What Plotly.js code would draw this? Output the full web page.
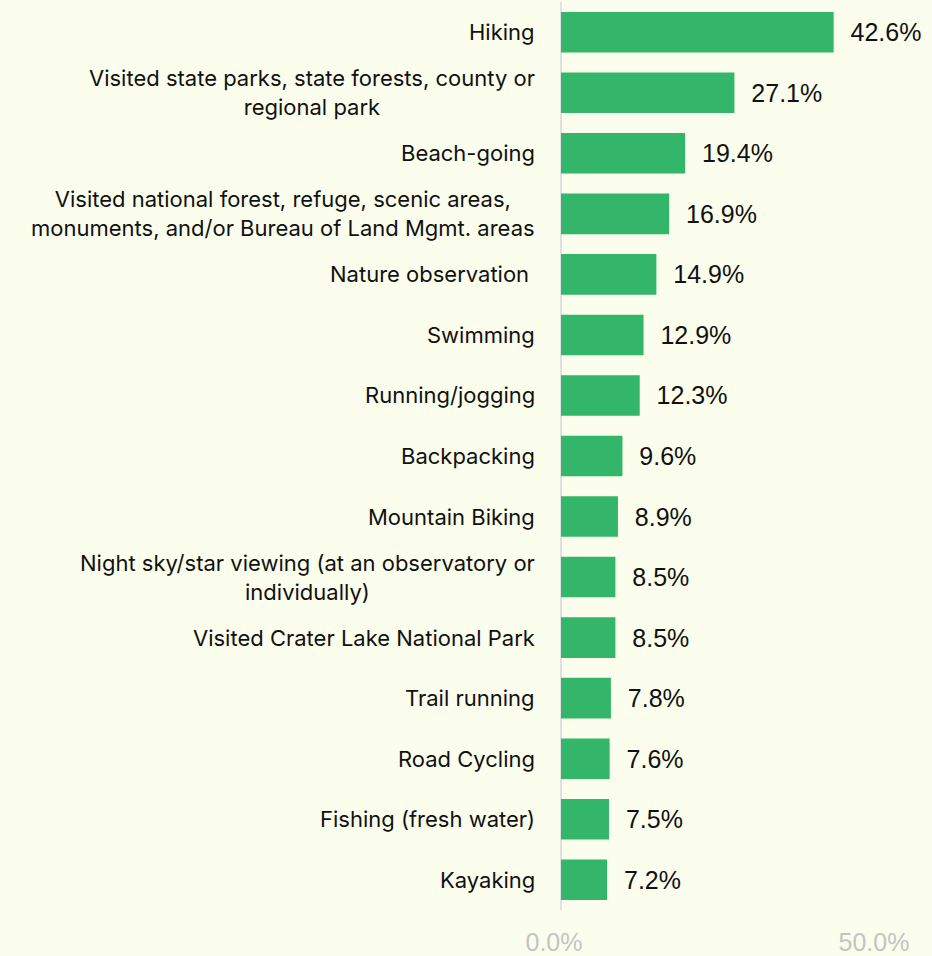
<!DOCTYPE html>
<html>
<head>
<meta charset="utf-8">
<script src="https://cdn.plot.ly/plotly-3.0.1.min.js"></script>
<style>html,body{margin:0;padding:0;background:#FBFEEC;}</style>
</head>
<body>
<div id="chart" style="width:932px;height:956px;"></div>
<script>
const categories = [
  "Hiking",
  "Visited state parks, state forests, county or<br>regional park",
  "Beach-going",
  "Visited national forest, refuge, scenic areas,<br>monuments, and/or Bureau of Land Mgmt. areas",
  "Nature observation ",
  "Swimming",
  "Running/jogging",
  "Backpacking",
  "Mountain Biking",
  "Night sky/star viewing (at an observatory or<br>individually)",
  "Visited Crater Lake National Park",
  "Trail running",
  "Road Cycling",
  "Fishing (fresh water)",
  "Kayaking"
];
const values = [42.6, 27.1, 19.4, 16.9, 14.9, 12.9, 12.3, 9.6, 8.9, 8.5, 8.5, 7.8, 7.6, 7.5, 7.2];
const tickVals = [0, 50];
const tickText = ["0.0%", "50.0%"];

const ids = categories.map((c, i) => "c" + i);

const trace = {
  type: "bar",
  orientation: "h",
  x: values,
  y: ids,
  marker: {color: "#33B56A"},
  text: values.map(v => "  " + v.toFixed(1) + "%"),
  textposition: "outside",
  textfont: {family: "Liberation Sans, Arial, sans-serif", size: 25, color: "#111111"},
  cliponaxis: false,
  hoverinfo: "none"
};

const annotations = categories.map((c, i) => ({
  xref: "paper", yref: "y",
  x: 0, y: ids[i],
  xanchor: "right", yanchor: "middle",
  xshift: -24,
  text: c,
  align: "center",
  showarrow: false,
  font: {family: "Inter, sans-serif", size: 22, color: "#111111"}
}));

const layout = {
  width: 932, height: 956,
  margin: {l: 561, r: 51, t: 2, b: 46},
  paper_bgcolor: "#FBFEEC",
  plot_bgcolor: "#FBFEEC",
  showlegend: false,
  bargap: 0.33,
  xaxis: {
    range: [0, 50],
    tickvals: tickVals,
    ticktext: tickText,
    showgrid: true,
    gridcolor: "#E8E8EC",
    gridwidth: 2,
    zeroline: true,
    zerolinecolor: "#E0E0E0",
    zerolinewidth: 2,
    ticks: "outside",
    ticklen: 10,
    tickcolor: "rgba(0,0,0,0)",
    ticklabelshift: -7,
    tickfont: {family: "Liberation Sans, Arial, sans-serif", size: 25, color: "#C4C4C4"},
    fixedrange: true
  },
  yaxis: {
    type: "category",
    autorange: "reversed",
    showticklabels: false,
    showgrid: false,
    zeroline: false,
    fixedrange: true
  },
  annotations: annotations
};

Plotly.newPlot("chart", [trace], layout, {displayModeBar: false, staticPlot: true});
</script>
</body>
</html>
